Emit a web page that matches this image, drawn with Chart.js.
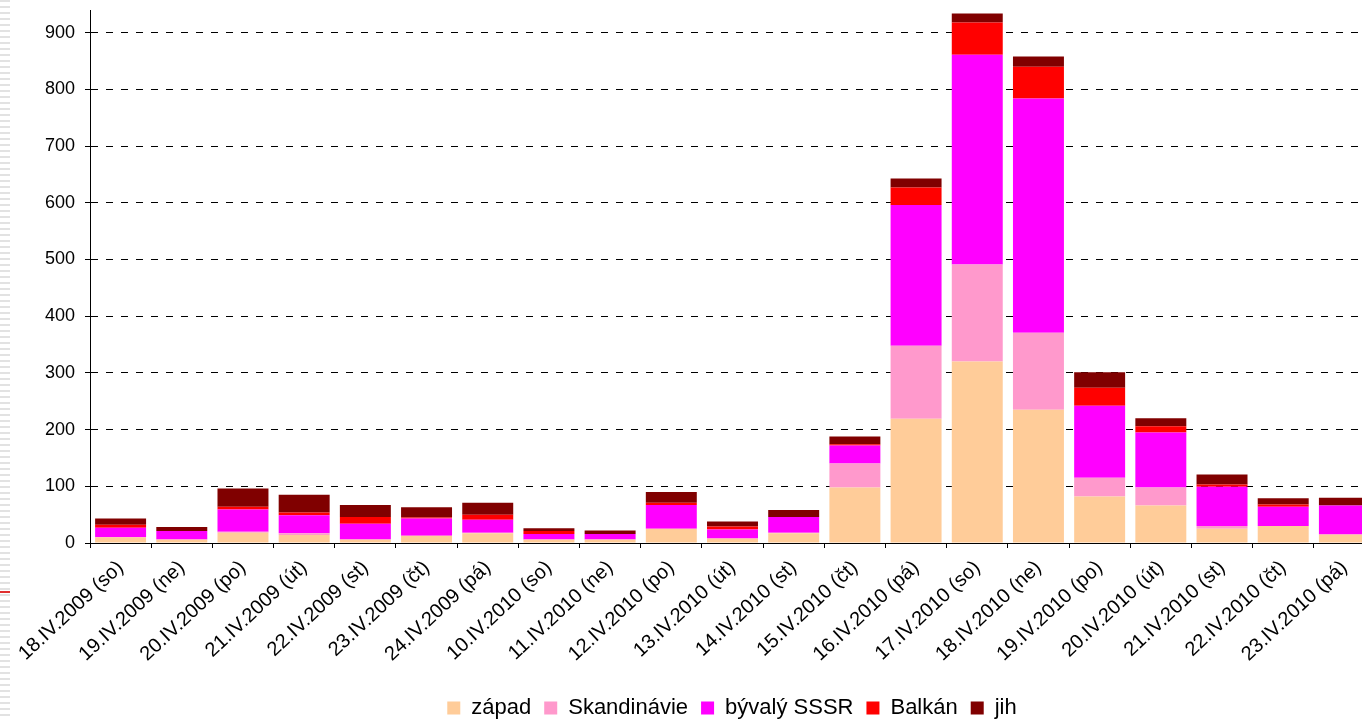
<!DOCTYPE html>
<html><head><meta charset="utf-8">
<script src="https://cdn.jsdelivr.net/npm/chart.js@4/dist/chart.umd.min.js"></script>
<style>
html,body{margin:0;padding:0;background:#fff;overflow:hidden;width:1362px;height:720px;}
#stripes{position:absolute;left:0;top:0;width:10px;height:720px;background:repeating-linear-gradient(to bottom,#e2e2e2 0,#e2e2e2 2px,#fff 2px,#fff 6px);}
#redmark{position:absolute;left:0;top:591px;width:10px;height:2px;background:#e03030;}
#wrap{position:absolute;left:0;top:0;width:1380px;height:720px;}
</style></head><body>
<div id="stripes"></div><div id="redmark"></div>
<div id="wrap"><canvas id="c"></canvas></div>
<script>
const categories = ["18.IV.2009 (so)", "19.IV.2009 (ne)", "20.IV.2009 (po)", "21.IV.2009 (út)", "22.IV.2009 (st)", "23.IV.2009 (čt)", "24.IV.2009 (pá)", "10.IV.2010 (so)", "11.IV.2010 (ne)", "12.IV.2010 (po)", "13.IV.2010 (út)", "14.IV.2010 (st)", "15.IV.2010 (čt)", "16.IV.2010 (pá)", "17.IV.2010 (so)", "18.IV.2010 (ne)", "19.IV.2010 (po)", "20.IV.2010 (út)", "21.IV.2010 (st)", "22.IV.2010 (čt)", "23.IV.2010 (pá)"];
const zapad       = [10, 6, 18, 14, 6, 13, 17, 6, 6, 25, 8, 17, 98, 219, 320, 235, 82, 66, 25, 30, 15];
const skandinavie = [0, 0, 2, 3, 0, 0, 1, 0, 0, 0, 0, 1, 42, 129, 171, 136, 33, 32, 5, 0, 0];
const sssr        = [17, 15, 39, 32, 28, 30, 23, 10, 10, 42, 16, 28, 32, 248, 370, 413, 127, 97, 69, 34, 51];
const balkan      = [5, 0, 5, 5, 12, 2, 9, 5, 0, 4, 5, 0, 2, 31, 57, 56, 32, 11, 4, 4, 0];
const jih         = [11, 7, 32, 31, 21, 18, 21, 5, 6, 19, 9, 12, 14, 16, 16, 18, 27, 14, 18, 11, 14];
const yTicks = [0, 100, 200, 300, 400, 500, 600, 700, 800, 900];

const FONT = "'Liberation Sans', Arial, sans-serif";

const legendShift = {
  id: 'legendShift',
  afterLayout(chart) {
    const l = chart.legend;
    const lab = l.options.labels;
    const pad = lab.padding;
    const fs = lab.font.size;
    const ih = Math.max(fs, lab.boxHeight);
    const dx = 732 - (l.left + l.right) / 2;
    const dy = 708 - (l.top + pad + ih / 2);
    l.left += dx; l.right += dx; l.top += dy; l.bottom += dy;
  }
};

function ds(label, data, color) {
  return { label, data, backgroundColor: color, borderWidth: 0,
           barPercentage: 0.833, categoryPercentage: 1.0 };
}

new Chart(document.getElementById('c'), {
  type: 'bar',
  data: {
    labels: categories,
    datasets: [
      ds('západ', zapad, '#FFCC99'),
      ds('Skandinávie', skandinavie, '#FF99CC'),
      ds('bývalý SSSR', sssr, '#FF00FF'),
      ds('Balkán', balkan, '#FF0000'),
      ds('jih', jih, '#800000')
    ]
  },
  options: {
    responsive: true,
    maintainAspectRatio: false,
    animation: false,
    devicePixelRatio: 1,
    layout: { padding: { left: 0, right: 5, top: 10, bottom: 0 } },
    plugins: {
      tooltip: { enabled: false },
      title: { display: false },
      legend: {
        position: 'bottom',
        labels: {
          color: '#000',
          font: { family: FONT, size: 22 },
          boxWidth: 13, boxHeight: 13,
          padding: 13
        }
      }
    },
    scales: {
      x: {
        stacked: true,
        offset: true,
        grid: { display: true, drawOnChartArea: false, drawTicks: true, tickLength: 5,
                color: '#000', tickColor: '#000', offset: true },
        border: { display: true, color: '#000', width: 1 },
        ticks: { color: '#000', font: { family: FONT, size: 20 }, minRotation: 43, maxRotation: 43,
                 autoSkip: false, padding: 8 },
        afterFit(scale) { scale.height = 720 - 543 - scale.chart.legend.height; }
      },
      y: {
        stacked: true,
        min: 0, max: 940,
        grid: { color: '#000', lineWidth: 1, tickLength: 5, tickColor: '#000', tickBorderDash: [] },
        border: { display: true, color: '#000', width: 1, dash: [7, 8] },
        ticks: { color: '#000', font: { family: FONT, size: 18 }, stepSize: 100, includeBounds: false, padding: 10 },
        afterBuildTicks(scale) { scale.ticks = yTicks.map(v => ({ value: v })); },
        afterFit(scale) { scale.width = 90; scale.paddingTop = 0; scale.paddingBottom = 0; }
      }
    }
  },
  plugins: [legendShift]
});
</script></body></html>
